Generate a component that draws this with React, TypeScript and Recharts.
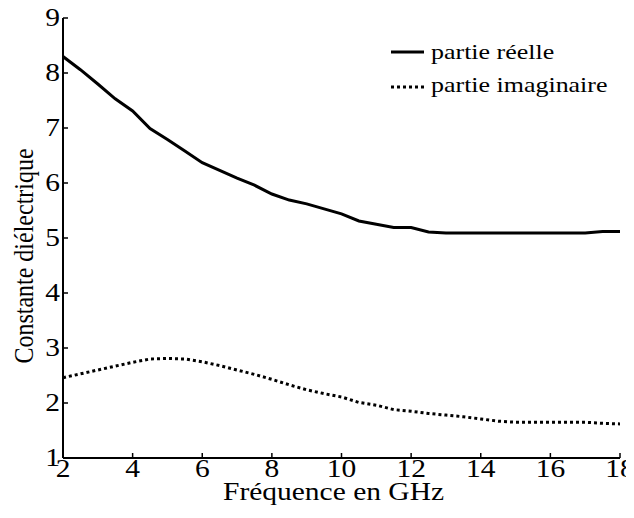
import React from "react";
import { LineChart, Line, XAxis, YAxis, Legend } from "recharts";

// fréquence (GHz)
const FREQ = [
  2, 2.5, 3, 3.5, 4, 4.5, 5, 5.5, 6, 6.5, 7, 7.5, 8, 8.5, 9, 9.5, 10, 10.5, 11,
  11.5, 12, 12.5, 13, 13.5, 14, 14.5, 15, 15.5, 16, 16.5, 17, 17.5, 18,
];
const REAL = [
  8.3, 8.06, 7.8, 7.53, 7.31, 6.99, 6.79, 6.58, 6.37, 6.23, 6.09, 5.96, 5.8,
  5.69, 5.62, 5.53, 5.44, 5.31, 5.25, 5.19, 5.19, 5.11, 5.09, 5.09, 5.09, 5.09,
  5.09, 5.09, 5.09, 5.09, 5.09, 5.12, 5.12,
];
const IMAG = [
  2.46, 2.53, 2.6, 2.67, 2.74, 2.8, 2.81, 2.8, 2.75, 2.68, 2.6, 2.52, 2.43,
  2.33, 2.24, 2.17, 2.11, 2.01, 1.96, 1.88, 1.85, 1.81, 1.78, 1.75, 1.71, 1.67,
  1.65, 1.65, 1.65, 1.65, 1.65, 1.63, 1.62,
];

const X_TICKS = [2, 4, 6, 8, 10, 12, 14, 16, 18];
const Y_TICKS = [1, 2, 3, 4, 5, 6, 7, 8, 9];
const SERIES_NAMES = ["partie réelle", "partie imaginaire"];
const X_LABEL = "Fréquence en GHz";
const Y_LABEL = "Constante diélectrique";

const data = FREQ.map((f, i) => ({ f, re: REAL[i], im: IMAG[i] }));

const FONT = "Liberation Serif, Tinos, Times New Roman, DejaVu Serif, serif";
const textStyle = { fontFamily: FONT };
const STRETCH = 1.18; // le texte de l'original est un peu élargi
const DOTS = "3 3";
const TICK_LEN = 5;

function BottomTick({ x, y, payload }: any) {
  return (
    <g>
      <line x1={x} y1={y} x2={x} y2={y - TICK_LEN} stroke="#000" strokeWidth={1.5} />
      <text
        transform={`translate(${x}, ${y + 19}) scale(${STRETCH}, 1)`}
        textAnchor="middle"
        fontSize={25}
        style={textStyle}
        fill="#000"
      >
        {payload.value}
      </text>
    </g>
  );
}

function LeftTick({ x, y, payload }: any) {
  return (
    <g>
      <line x1={x} y1={y} x2={x + TICK_LEN} y2={y} stroke="#000" strokeWidth={1.5} />
      <text
        transform={`translate(${x - 3}, ${y + 8}) scale(${STRETCH}, 1)`}
        textAnchor="end"
        fontSize={25}
        style={textStyle}
        fill="#000"
      >
        {payload.value}
      </text>
    </g>
  );
}

function TopTick({ x, y }: any) {
  return <line x1={x} y1={y} x2={x} y2={y + TICK_LEN} stroke="#000" strokeWidth={1.5} />;
}

function RightTick({ x, y }: any) {
  return <line x1={x} y1={y} x2={x - TICK_LEN} y2={y} stroke="#000" strokeWidth={1.5} />;
}

function LegendBox() {
  return (
    <svg width={250} height={80} style={{ display: "block" }}>
      <line x1={3} y1={19} x2={36} y2={19} stroke="#000" strokeWidth={3} />
      <text transform={`translate(43, 26) scale(${STRETCH}, 1)`} fontSize={22} style={textStyle} fill="#000">
        {SERIES_NAMES[0]}
      </text>
      <line x1={3} y1={54} x2={36} y2={54} stroke="#000" strokeWidth={3} strokeDasharray={DOTS} />
      <text transform={`translate(43, 59) scale(${STRETCH}, 1)`} fontSize={22} style={textStyle} fill="#000">
        {SERIES_NAMES[1]}
      </text>
    </svg>
  );
}

function YLabel({ viewBox }: any) {
  const cx = viewBox.x + 25;
  const cy = viewBox.y + viewBox.height / 2 + 18;
  return (
    <text
      transform={`translate(${cx}, ${cy}) rotate(-90) scale(1, 1.12)`}
      textAnchor="middle"
      fontSize={24}
      style={textStyle}
      fill="#000"
    >
      {Y_LABEL}
    </text>
  );
}

function XLabel({ viewBox }: any) {
  const cx = viewBox.x + viewBox.width / 2 - 8;
  const cy = viewBox.y + 42;
  return (
    <text
      transform={`translate(${cx}, ${cy}) scale(${STRETCH}, 1)`}
      textAnchor="middle"
      fontSize={25}
      style={textStyle}
      fill="#000"
    >
      {X_LABEL}
    </text>
  );
}

export default function App() {
  const axisLine = { stroke: "#000", strokeWidth: 2 };
  return (
    <div style={{ width: 634, height: 518, margin: -8, background: "#fff" }}>
      <LineChart
        width={634}
        height={518}
        data={data}
        margin={{ top: 18, right: 14, bottom: 30, left: 8 }}
      >
        <XAxis
          dataKey="f"
          type="number"
          domain={[2, 18]}
          ticks={X_TICKS}
          allowDataOverflow
          height={30}
          tickSize={0}
          tickMargin={0}
          tickLine={false}
          axisLine={axisLine}
          tick={<BottomTick />}
          interval={0}
          label={{ content: <XLabel /> }}
        />
        <XAxis
          xAxisId="top"
          orientation="top"
          type="number"
          domain={[2, 18]}
          ticks={X_TICKS}
          allowDataOverflow
          height={0}
          tickSize={0}
          tickMargin={0}
          tickLine={false}
          axisLine={axisLine}
          tick={<TopTick />}
          interval={0}
        />
        <YAxis
          type="number"
          domain={[1, 9]}
          ticks={Y_TICKS}
          allowDataOverflow
          width={55}
          tickSize={0}
          tickMargin={0}
          tickLine={false}
          axisLine={axisLine}
          tick={<LeftTick />}
          interval={0}
          label={{ content: <YLabel /> }}
        />
        <YAxis
          yAxisId="right"
          orientation="right"
          type="number"
          domain={[1, 9]}
          ticks={Y_TICKS}
          allowDataOverflow
          width={0}
          tickSize={0}
          tickMargin={0}
          tickLine={false}
          axisLine={axisLine}
          tick={<RightTick />}
          interval={0}
        />
        <Legend
          layout="vertical"
          align="center"
          verticalAlign="middle"
          wrapperStyle={{ left: 388, top: 33, width: 250, height: 80 }}
          content={() => <LegendBox />}
        />
        <Line
          dataKey="re"
          name={SERIES_NAMES[0]}
          type="linear"
          stroke="#000"
          strokeWidth={3}
          dot={false}
          isAnimationActive={false}
        />
        <Line
          dataKey="im"
          name={SERIES_NAMES[1]}
          type="linear"
          stroke="#000"
          strokeWidth={3}
          strokeDasharray={DOTS}
          dot={false}
          isAnimationActive={false}
        />
      </LineChart>
    </div>
  );
}
